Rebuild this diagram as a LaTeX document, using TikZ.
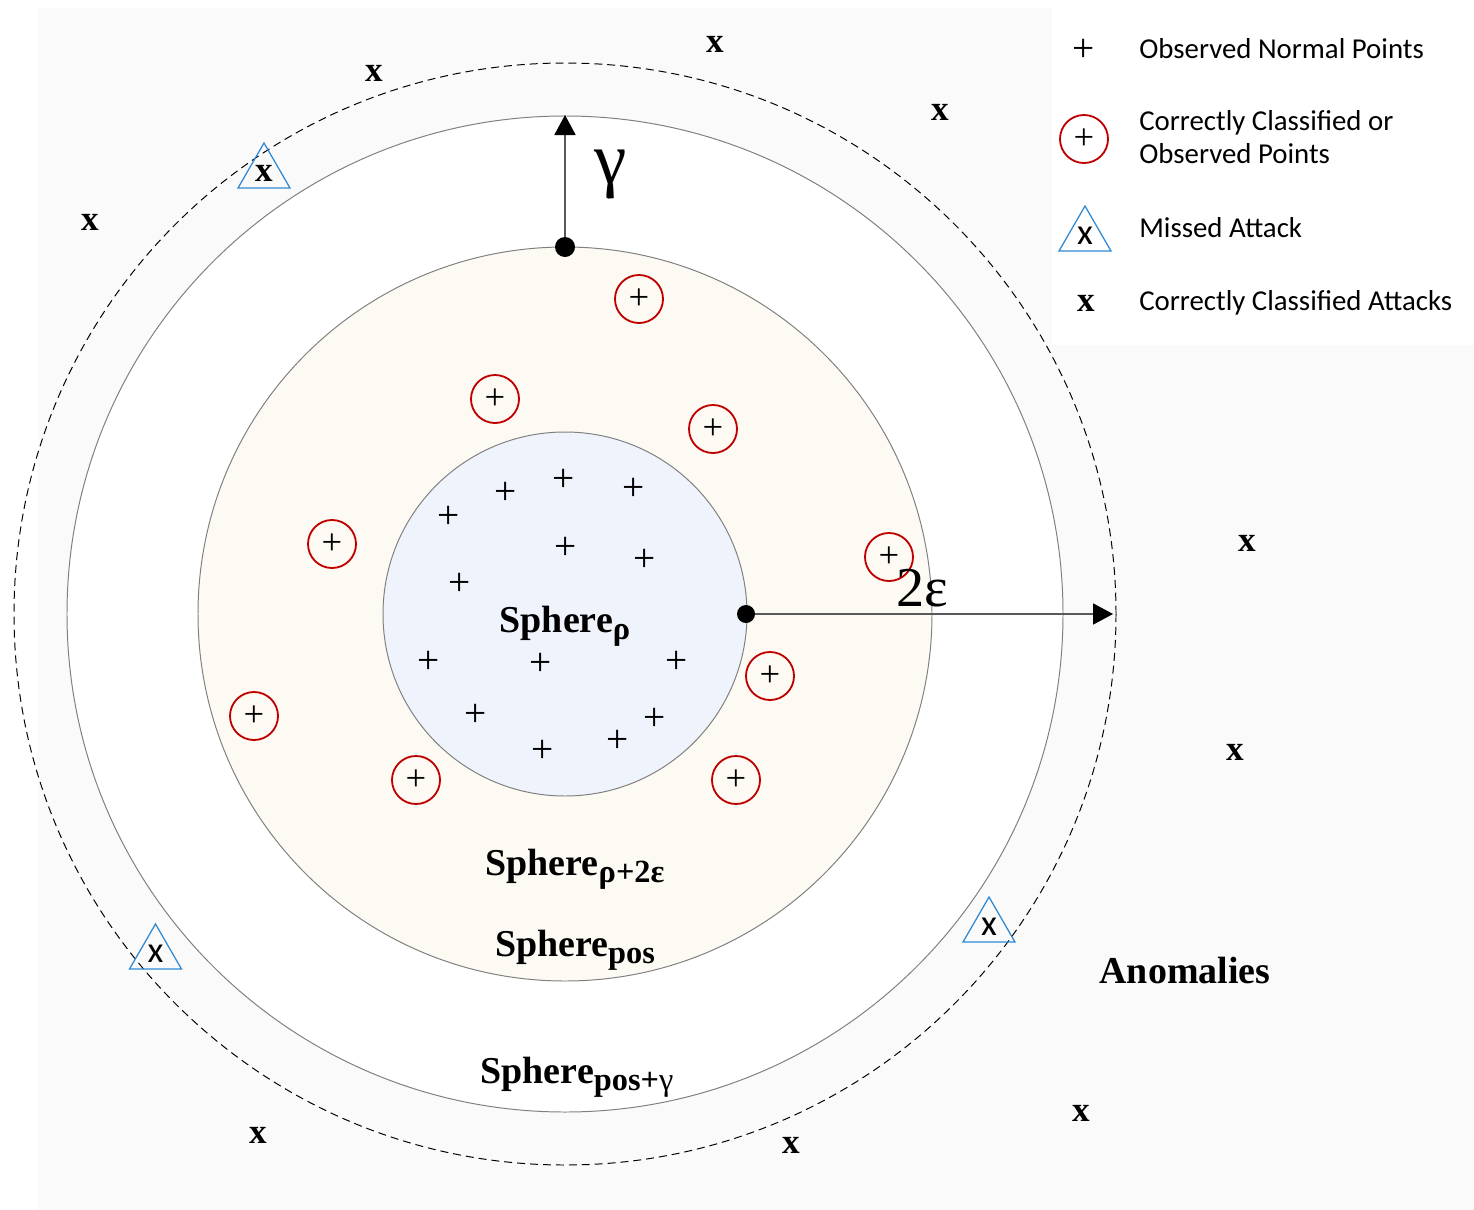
\documentclass[tikz,border=0pt]{standalone}
\usepackage{fontspec}
\setmainfont{Liberation Serif}
\newfontfamily\legendfont{Carlito}
\usetikzlibrary{arrows.meta,shapes.geometric}
\definecolor{innerblue}{HTML}{EFF3FB}
\definecolor{beige}{HTML}{FDFAF4}
\definecolor{ringgray}{HTML}{808080}
\definecolor{missblue}{HTML}{2F8AD6}
\definecolor{caughtred}{HTML}{C00000}
\newcommand{\lowsub}[1]{\raisebox{-5pt}{\fontsize{23}{23}\selectfont #1}}

\begin{document}
\begin{tikzpicture}[x=0.025cm, y=-0.025cm,
  normal/.style={inner sep=0pt, font=\fontsize{28}{28}\selectfont},
  caught/.style={circle, draw=caughtred, line width=1.3pt, minimum size=1.2cm, inner sep=0pt, font=\fontsize{26}{26}\selectfont},
  attack/.style={inner sep=0pt, font=\fontsize{25}{25}\selectfont\bfseries},
  missed/.style={regular polygon, regular polygon sides=3, draw=missblue, line width=0.9pt, minimum size=1.5cm, inner sep=0pt},
  label/.style={font=\fontsize{27}{30}\selectfont\bfseries, anchor=base},
  legtext/.style={font=\legendfont\fontsize{20.5}{23.5}\selectfont, anchor=base west, align=left, inner sep=0pt},
  dot/.style={circle, fill=black, inner sep=0pt},
  radius arrow/.style={draw=black!65, line width=0.8pt, -{Triangle[width=0.53cm, length=0.5cm, color=black]}}]
\useasboundingbox (0,0) rectangle (1474,1210);
\fill[black!2] (38,8) rectangle (1474,1210);
\fill[white] (1052,0) rectangle (1474,345);
\draw[line width=0.7pt, dash pattern=on 5.7pt off 3.5pt] (565,614) circle (551);
\draw[ringgray, line width=0.7pt, fill=white] (565,614) circle (498);
\draw[ringgray, line width=0.7pt, fill=beige] (565,614) circle (367);
\draw[ringgray, line width=0.7pt, fill=innerblue] (565,614) circle (182);

\foreach \px/\py [count=\i] in {564/480, 506/493, 634/489, 449/517, 566/548, 645/560, 460/584, 429/662, 541/664, 677/662, 476/715, 655/719, 618/741, 543/751}
  \node[normal] (n\i) at (\px,\py) {+};
\foreach \px/\py [count=\i] in {639/299, 495/399, 713/429, 332/544, 889/557, 770/676, 254/716, 416/780, 736/780}
  \node[caught] (c\i) at (\px,\py) {+};
\foreach \px/\py [count=\i] in {374/73, 715/44, 940/112, 90/222, 1247/543, 1235/752, 1081/1113, 791/1145, 258/1135}
  \node[attack] (a\i) at (\px,\py) {x};

\node[missed, font=\fontsize{25}{25}\selectfont\bfseries] (m1) at (264,173) {x};
\node[missed, font=\legendfont\fontsize{26}{26}\selectfont] (m2) at (155.5,954) {x};
\node[missed, font=\legendfont\fontsize{26}{26}\selectfont] (m3) at (989,927) {x};

\node[dot, minimum size=0.5cm] (dotpos) at (565,247) {};
\node[dot, minimum size=0.45cm] (dotrho) at (746,614) {};
\coordinate (gammatip) at (565,115);
\coordinate (epstip) at (1113,614);
\draw[radius arrow] (dotpos) -- (gammatip);
\draw[radius arrow] (dotrho) -- (epstip);
\node[font=\fontsize{52}{52}\selectfont] (gamma) at (611,174) {γ};
\node[font=\fontsize{40}{40}\selectfont] (eps) at (922,588) {2ε};

\node[label] (srho) at (565,632) {Sphere\lowsub{ρ}};
\node[label] (srhoeps) at (575,875) {Sphere\lowsub{ρ+2ε}};
\node[label] (spos) at (575,956) {Sphere\lowsub{pos}};
\node[label] (sposg) at (577,1083) {Sphere\lowsub{pos+{\normalfont γ}}};
\node[label] (anom) at (1185,983) {Anomalies};

\node[normal] (lplus) at (1084,50) {+};
\node[caught] (lcaught) at (1084,139) {+};
\node[missed, font=\legendfont\fontsize{26}{26}\selectfont] (lmissed) at (1085,236) {x};
\node[attack] (lattack) at (1086,303) {x};
\node[legtext] (ltext1) at (1139,58) {Observed Normal Points};
\node[legtext, anchor=west] (ltext2) at (1139,137) {Correctly Classified or\\Observed Points};
\node[legtext] (ltext3) at (1139,237) {Missed Attack};
\node[legtext] (ltext4) at (1139,310) {Correctly Classified Attacks};
\end{tikzpicture}
\end{document}
